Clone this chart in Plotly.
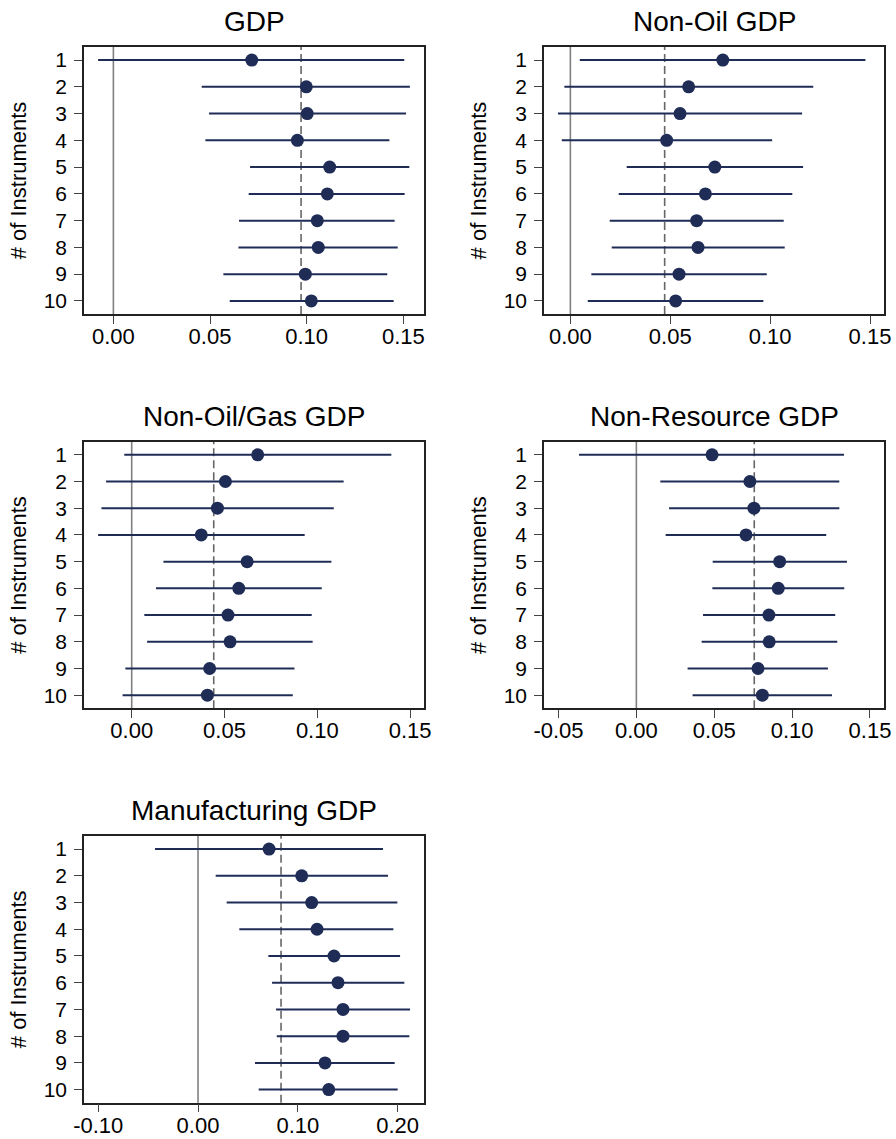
import plotly.graph_objects as go

# ---------------- data ----------------
instruments = [1, 2, 3, 4, 5, 6, 7, 8, 9, 10]
titles = ["GDP", "Non-Oil GDP", "Non-Oil/Gas GDP", "Non-Resource GDP", "Manufacturing GDP"]

gdp_est = [0.0716, 0.0998, 0.1003, 0.0952, 0.1119, 0.1107, 0.1055, 0.1060, 0.0993, 0.1024]
gdp_lo = [-0.0079, 0.0457, 0.0495, 0.0476, 0.0707, 0.0700, 0.0650, 0.0647, 0.0569, 0.0602]
gdp_hi = [0.1505, 0.1534, 0.1514, 0.1428, 0.1531, 0.1507, 0.1455, 0.1471, 0.1417, 0.1450]

nonoil_est = [0.0763, 0.0592, 0.0549, 0.0482, 0.0723, 0.0676, 0.0632, 0.0639, 0.0544, 0.0527]
nonoil_lo = [0.0047, -0.0030, -0.0062, -0.0043, 0.0282, 0.0242, 0.0197, 0.0207, 0.0105, 0.0087]
nonoil_hi = [0.1477, 0.1216, 0.1160, 0.1010, 0.1165, 0.1111, 0.1068, 0.1073, 0.0983, 0.0966]

nonoilgas_est = [0.0679, 0.0505, 0.0462, 0.0375, 0.0622, 0.0577, 0.0519, 0.0530, 0.0420, 0.0408]
nonoilgas_lo = [-0.0040, -0.0138, -0.0163, -0.0181, 0.0171, 0.0131, 0.0068, 0.0083, -0.0034, -0.0049]
nonoilgas_hi = [0.1399, 0.1142, 0.1089, 0.0932, 0.1076, 0.1024, 0.0970, 0.0975, 0.0877, 0.0868]

nonres_est = [0.0486, 0.0729, 0.0755, 0.0704, 0.0920, 0.0911, 0.0851, 0.0853, 0.0781, 0.0809]
nonres_lo = [-0.0368, 0.0154, 0.0210, 0.0188, 0.0490, 0.0488, 0.0428, 0.0419, 0.0329, 0.0361]
nonres_hi = [0.1333, 0.1303, 0.1303, 0.1219, 0.1352, 0.1335, 0.1277, 0.1290, 0.1230, 0.1256]

manuf_est = [0.0712, 0.1039, 0.1139, 0.1193, 0.1363, 0.1403, 0.1453, 0.1453, 0.1273, 0.1310]
manuf_lo = [-0.0431, 0.0177, 0.0287, 0.0414, 0.0705, 0.0742, 0.0782, 0.0789, 0.0571, 0.0608]
manuf_hi = [0.1854, 0.1904, 0.1998, 0.1958, 0.2025, 0.2068, 0.2125, 0.2118, 0.1971, 0.2001]

# reference (dashed) estimates
ref_values = [0.0971, 0.0472, 0.0442, 0.0757, 0.0832]

# x-axis ticks per panel
ticks_a = [0.0, 0.05, 0.10, 0.15]
ticklabels_a = ["0.00", "0.05", "0.10", "0.15"]
ticks_b = [-0.05, 0.0, 0.05, 0.10, 0.15]
ticklabels_b = ["-0.05", "0.00", "0.05", "0.10", "0.15"]
ticks_c = [-0.10, 0.0, 0.10, 0.20]
ticklabels_c = ["-0.10", "0.00", "0.10", "0.20"]

x_ranges = [[-0.0152, 0.1607], [-0.0132, 0.1570], [-0.0257, 0.1575],
            [-0.0593, 0.1590], [-0.1143, 0.2265]]

panels = [
    (gdp_est, gdp_lo, gdp_hi, ticks_a, ticklabels_a),
    (nonoil_est, nonoil_lo, nonoil_hi, ticks_a, ticklabels_a),
    (nonoilgas_est, nonoilgas_lo, nonoilgas_hi, ticks_a, ticklabels_a),
    (nonres_est, nonres_lo, nonres_hi, ticks_b, ticklabels_b),
    (manuf_est, manuf_lo, manuf_hi, ticks_c, ticklabels_c),
]

# ---------------- layout geometry (pixels) ----------------
W, H = 896, 1139
col_x = [(84, 424), (544, 884)]
row_y = [(47, 314), (441.7, 708.3), (836, 1102.7)]
positions = [(0, 0), (0, 1), (1, 0), (1, 1), (2, 0)]

NAVY = "#1f2c56"
FONT = "Liberation Sans, Arial, sans-serif"

fig = go.Figure()
layout = dict(
    width=W, height=H, margin=dict(l=0, r=0, t=0, b=0, autoexpand=False),
    template="none",
    paper_bgcolor="white", plot_bgcolor="white", showlegend=False,
    font=dict(family=FONT, color="black", size=20),
)
annotations = []
shapes = []

for i, ((est, lo, hi, tv, tt), (r, c)) in enumerate(zip(panels, positions)):
    k = i + 1
    xa = "x" if k == 1 else f"x{k}"
    ya = "y" if k == 1 else f"y{k}"
    x0, x1 = col_x[c]
    y0, y1 = row_y[r]
    xdom = [x0 / W, x1 / W]
    ydom = [1 - y1 / H, 1 - y0 / H]

    fig.add_trace(go.Scatter(
        x=est, y=instruments, mode="markers", xaxis=xa, yaxis=ya,
        marker=dict(color=NAVY, size=13, line=dict(width=0)),
        error_x=dict(type="data", symmetric=False,
                     array=[h - e for h, e in zip(hi, est)],
                     arrayminus=[e - l for e, l in zip(est, lo)],
                     width=0, thickness=2, color=NAVY),
        hoverinfo="skip",
    ))

    axis_common = dict(showline=True, linecolor="#222222", linewidth=1.5, mirror=True,
                       ticks="outside", ticklen=8, tickwidth=1.2, tickcolor="#444444",
                       showgrid=False, zeroline=False, automargin=False)
    layout["xaxis" if k == 1 else f"xaxis{k}"] = dict(
        domain=xdom, anchor=ya, range=x_ranges[i], tickvals=tv, ticktext=tt,
        ticklabelstandoff=-6,
        tickfont=dict(size=22, family=FONT, color="black"), **axis_common)
    layout["yaxis" if k == 1 else f"yaxis{k}"] = dict(
        domain=ydom, anchor=xa, range=[10.49, 0.51], tickvals=instruments,
        ticktext=[str(v) for v in instruments],
        ticklabelstandoff=3,
        tickfont=dict(size=21, family=FONT, color="black"),
        title=dict(text="# of Instruments", font=dict(size=22, family=FONT, color="black"),
                   standoff=11),
        **axis_common)

    # zero line and reference line
    shapes.append(dict(type="line", xref=xa, yref=f"{ya} domain", x0=0, x1=0, y0=0, y1=1,
                       line=dict(color="#808080", width=1.6), layer="below"))
    shapes.append(dict(type="line", xref=xa, yref=f"{ya} domain", x0=ref_values[i],
                       x1=ref_values[i], y0=0, y1=1,
                       line=dict(color="#666666", width=1.6, dash="8px,4px"), layer="below"))

    annotations.append(dict(text=titles[i], xref="paper", yref="paper",
                            x=(x0 + x1) / 2 / W, y=1 - (y0 - 8) / H,
                            xanchor="center", yanchor="bottom", showarrow=False,
                            font=dict(size=28, family=FONT, color="black")))

layout["annotations"] = annotations
layout["shapes"] = shapes
fig.update_layout(**layout)
fig.write_html("out.html", config={"displayModeBar": False},
               post_script="document.body.style.margin='0';")
